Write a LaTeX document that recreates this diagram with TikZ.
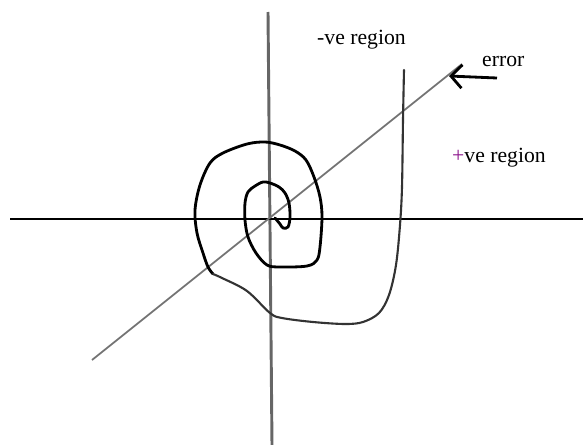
\documentclass[tikz,border=0pt]{standalone}
\usepackage{fontspec}
\setmainfont{Liberation Serif}
\usepackage{xcolor}
\usepackage{tikz}
\usetikzlibrary{arrows.meta, positioning}

\definecolor{plusvio}{RGB}{140,20,140}

\begin{document}
\begin{tikzpicture}[
  x=0.03cm, y=-0.03cm,
  axis/.style={line width=2.3pt, black},
  vaxis/.style={line width=2.5pt, black!60},
  errline/.style={line width=1.5pt, black!55},
  spiral/.style={line width=2.4pt, black, line cap=round, line join=round},
  tail/.style={line width=1.8pt, black!80, line cap=round, line join=round},
  pointer/.style={line width=2.4pt, black, -{Straight Barb[length=3.3mm, width=7mm]}},
  region_label/.style={anchor=base west, inner sep=0pt, font=\fontsize{18.5}{22}\selectfont}
]
  \useasboundingbox (0,0) rectangle (583,445);

  % Axes
  \coordinate (xleft) at (10,219);
  \coordinate (xright) at (583,219);
  \coordinate (ytop) at (268,12);
  \coordinate (ybot) at (272,445);
  \draw[vaxis] (ytop) -- (ybot);
  \draw[axis] (xleft) -- (xright);

  % Error line through the origin
  \coordinate (elow) at (92,360);
  \coordinate (ehigh) at (462,64);
  \draw[errline] (elow) -- (ehigh);

  % Spiral response
  \draw[spiral] plot[smooth, tension=0.55] coordinates {
    (275,218) (280,224) (283,228) (288,227) (290,217) (289,203) (285,193)
    (279,187) (270,183) (263,182) (255,186) (248,192) (245,203) (245,220)
    (248,237) (256,253) (267,265) (280,267) (307,266) (317,260) (320,247)
    (322,217) (320,197) (314,177) (306,160) (295,151) (280,145) (265,142)
    (247,144) (223,153) (210,163) (200,185) (195,210) (197,233) (203,253)
    (208,267) (213,274)};
  \draw[tail] plot[smooth, tension=0.55] coordinates {
    (213,274) (222,278) (247,291) (270,313) (282,318) (313,322) (345,324)
    (363,322) (379,313) (389,295) (396,265) (400,225) (402,187) (403,120)
    (404,70)};

  % Labels
  \node[region_label] (neg) at (317,44) {-ve region};
  \node[region_label] (err) at (482,66) {error};
  \node[region_label] (pos) at (452,162) {\textcolor{plusvio}{+}ve region};

  % Pointer to the error line
  \coordinate (ptail) at (497,78);
  \coordinate (phead) at (449,76);
  \draw[pointer] (ptail) -- (phead);
\end{tikzpicture}
\end{document}
